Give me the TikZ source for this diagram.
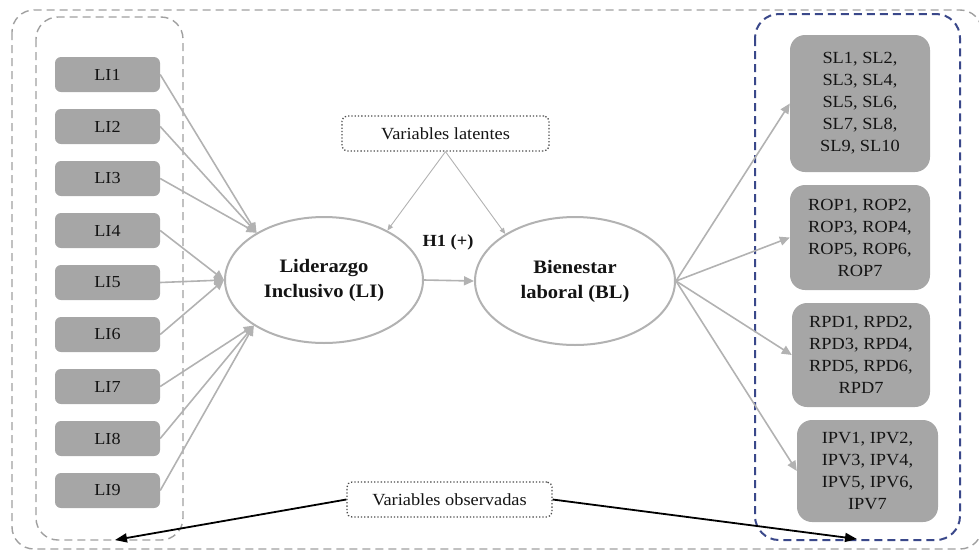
\documentclass[tikz,border=0pt]{standalone}
\usepackage{fontspec}
\setmainfont[FakeStretch=1.08]{Liberation Serif}
\usetikzlibrary{arrows.meta,shapes.geometric}
\definecolor{boxgray}{RGB}{166,166,166}
\definecolor{linegray}{RGB}{178,178,178}
\definecolor{framegray}{RGB}{160,160,160}
\definecolor{txt}{RGB}{20,20,20}
\definecolor{dblue}{RGB}{58,72,138}
\tikzset{
  libox/.style={rectangle, rounded corners=6pt, fill=boxgray, minimum width=105pt, minimum height=35pt, inner sep=0pt, text=txt, font=\fontsize{16.8}{20}\selectfont},
  rbox/.style={rectangle, rounded corners=15pt, fill=boxgray, inner sep=0pt, text=txt, align=center, font=\fontsize{17}{22}\selectfont},
  latent/.style={ellipse, draw=linegray, line width=2pt, fill=white, inner sep=0pt, text=txt, align=center, font=\fontsize{19}{25}\selectfont\bfseries},
  garrow/.style={draw=linegray, line width=1.6pt, -{Triangle[length=10pt,width=9pt]}, color=linegray},
  thinarrow/.style={draw=linegray, line width=0.9pt, -{Triangle[length=6pt,width=5pt]}, color=linegray},
  blackarrow/.style={draw=black, line width=1.8pt, -{Triangle[length=12pt,width=9pt]}},
  labelbox/.style={rectangle, rounded corners=5pt, draw=black!70, dotted, line width=1.3pt, inner sep=0pt, text=txt, font=\fontsize{17}{20}\selectfont},
  gframe/.style={draw=framegray, dashed, dash pattern=on 8pt off 5pt, line width=1.4pt, rounded corners=22pt},
  bframe/.style={draw=dblue, dash pattern=on 8pt off 5pt, line width=2pt, rounded corners=24pt}
}
\begin{document}
\begin{tikzpicture}[x=1pt,y=-1pt]
\useasboundingbox (0,0) rectangle (979,552);
% frames
\draw[gframe] (12,10) rectangle (982,549);
\draw[gframe] (36,17) rectangle (183,540);
\draw[bframe] (755,14) rectangle (960,540);
% LI boxes
\node[libox] (li1) at (107.5,74.5) {LI1};
\node[libox] (li2) at (107.5,126.5) {LI2};
\node[libox] (li3) at (107.5,178.5) {LI3};
\node[libox] (li4) at (107.5,230.5) {LI4};
\node[libox] (li5) at (107.5,282.5) {LI5};
\node[libox] (li6) at (107.5,334.5) {LI6};
\node[libox] (li7) at (107.5,386.5) {LI7};
\node[libox] (li8) at (107.5,438.5) {LI8};
\node[libox] (li9) at (107.5,490.5) {LI9};
% latent variables
\node[latent, minimum width=198pt, minimum height=126pt] (eli) at (324,280) {Liderazgo\\Inclusivo (LI)};
\node[latent, minimum width=200pt, minimum height=128pt] (ebl) at (575,281) {Bienestar\\laboral (BL)};
% right boxes
\node[rbox, minimum width=140pt, minimum height=137pt] (sl) at (860,103.5) {SL1, SL2,\\SL3, SL4,\\SL5, SL6,\\SL7, SL8,\\SL9, SL10};
\node[rbox, minimum width=140pt, minimum height=105pt] (rop) at (860,237.5) {ROP1, ROP2,\\ROP3, ROP4,\\ROP5, ROP6,\\ROP7};
\node[rbox, minimum width=138pt, minimum height=104pt] (rpd) at (861,355) {RPD1, RPD2,\\RPD3, RPD4,\\RPD5, RPD6,\\RPD7};
\node[rbox, minimum width=141pt, minimum height=102pt] (ipv) at (867.5,471) {IPV1, IPV2,\\IPV3, IPV4,\\IPV5, IPV6,\\IPV7};
% label boxes
\node[labelbox, minimum width=207pt, minimum height=35pt] (lat) at (445.5,133.5) {Variables latentes};
\node[labelbox, minimum width=205pt, minimum height=35pt] (obs) at (449.5,499.5) {Variables observadas};
\node[text=txt, font=\fontsize{17}{20}\selectfont\bfseries] (h1) at (448,242) {H1 (+)};
% arrows LI -> ellipse
\foreach \i in {li1,li2,li3} \draw[garrow] (\i.east) -- (eli.145);
\foreach \i in {li4,li5,li6} \draw[garrow] (\i.east) -- (eli.west);
\foreach \i in {li7,li8,li9} \draw[garrow] (\i.east) -- (eli.213);
% H1
\draw[garrow] (eli.east) -- (ebl.west);
% BL -> indicators
\draw[garrow] (ebl.east) -- (sl.west);
\draw[garrow] (ebl.east) -- (rop.west);
\draw[garrow] (ebl.east) -- (rpd.west);
\draw[garrow] (ebl.east) -- (ipv.west);
% latent label
\draw[thinarrow] (lat.south) -- (eli.38);
\draw[thinarrow] (lat.south) -- (ebl.146);
% observed label
\coordinate (oleft) at (115,540);
\coordinate (oright) at (857,539);
\draw[blackarrow] (obs.west) -- (oleft);
\draw[blackarrow] (obs.east) -- (oright);
\end{tikzpicture}
\end{document}
